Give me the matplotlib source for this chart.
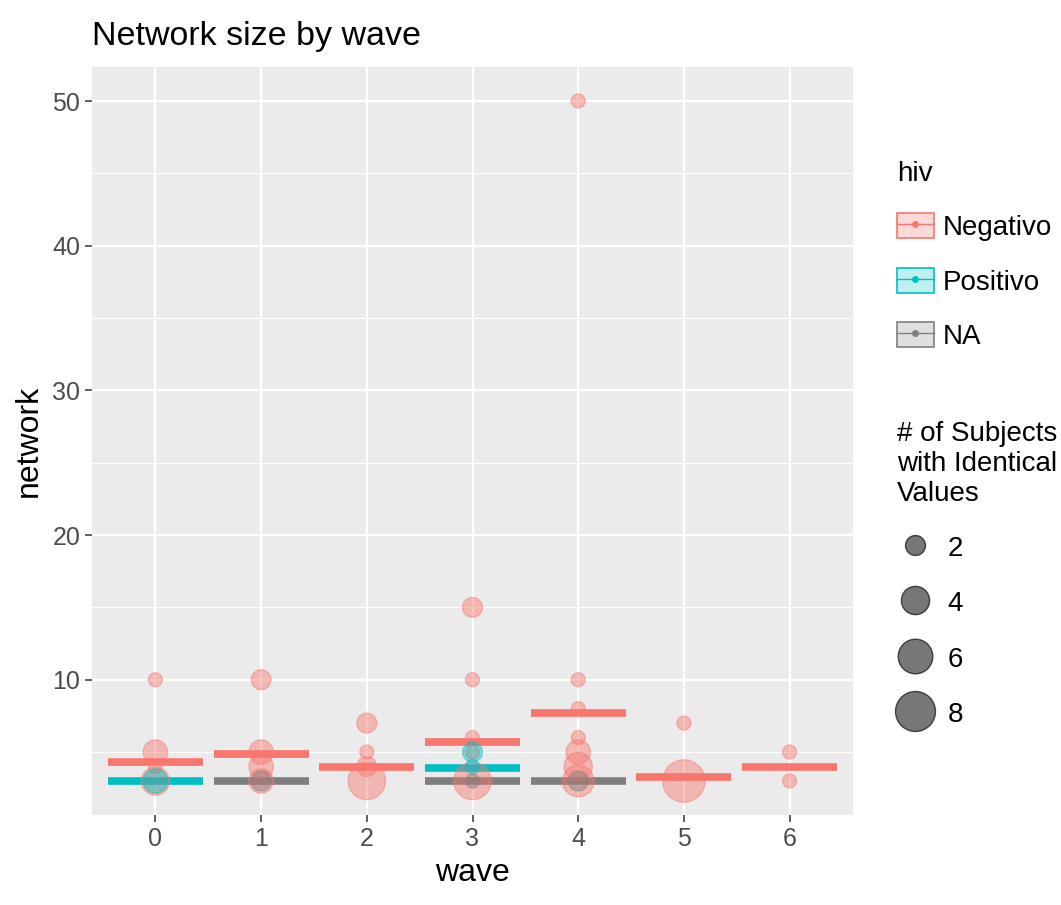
import numpy as np
import matplotlib.pyplot as plt
from matplotlib.lines import Line2D
from matplotlib.patches import Rectangle
from matplotlib.legend_handler import HandlerTuple

plt.rcParams['font.family'] = ['Liberation Sans', 'DejaVu Sans']

# points: wave, network value, number of subjects with identical values
neg_wave = [0, 0, 0, 0, 1, 1, 1, 1, 2, 2, 2, 2, 3, 3, 3, 3, 3, 4, 4, 4, 4, 4, 4, 4, 5, 5, 6, 6]
neg_value = [10, 5, 4, 3, 10, 5, 4, 3, 7, 5, 4, 3, 15, 10, 6, 5, 3, 50, 10, 8, 6, 5, 4, 3, 7, 3, 5, 3]
neg_count = [1, 3, 1, 4, 2, 3, 3, 3, 2, 1, 2, 7, 2, 1, 1, 1, 7, 1, 1, 1, 1, 3, 4, 5, 1, 9, 1, 1]

pos_wave = [0, 3, 3]
pos_value = [3, 5, 4]
pos_count = [3, 2, 1]

na_wave = [1, 3, 4]
na_value = [3, 3, 3]
na_count = [2, 1, 2]

# group means (horizontal bars)
neg_mean_wave = [0, 1, 2, 3, 4, 5, 6]
neg_mean = [4.3, 4.9, 4.0, 5.7, 7.7, 3.3, 4.0]
pos_mean_wave = [0, 3]
pos_mean = [3.0, 3.9]
na_mean_wave = [1, 3, 4]
na_mean = [3.0, 3.0, 3.0]

size_breaks = [2, 4, 6, 8]
hiv_labels = ['Negativo', 'Positivo', 'NA']
colors = ['#F8766D', '#00BFC4', '#7F7F7F']


def diam(n):
    # diameter in points
    return 0.72 * np.sqrt(14 ** 2 + (np.asarray(n) - 1) * 200)


fig = plt.figure(figsize=(10.61, 9.05), dpi=100)
ax = fig.add_axes([92 / 1061, 1 - 815 / 905, 761 / 1061, 748 / 905])
ax.set_facecolor('#EBEBEB')

groups = [
    (neg_wave, neg_value, neg_count, neg_mean_wave, neg_mean, colors[0]),
    (pos_wave, pos_value, pos_count, pos_mean_wave, pos_mean, colors[1]),
    (na_wave, na_value, na_count, na_mean_wave, na_mean, colors[2]),
]
for w, v, c, mw, m, col in groups:
    mw = np.asarray(mw)
    ax.hlines(m, mw - 0.45, mw + 0.45, color=col, linewidth=5.5, zorder=2)
for w, v, c, mw, m, col in groups:
    ax.scatter(w, v, s=diam(c) ** 2, color=col, alpha=0.45,
               edgecolors=col, linewidths=1.0, zorder=3)

ax.set_xlim(-0.6, 6.6)
ax.set_ylim(0.65, 52.35)
ax.set_xticks(range(7))
ax.set_yticks([10, 20, 30, 40, 50])
ax.set_yticks([5, 15, 25, 35, 45], minor=True)
ax.set_xticks([], minor=True)
ax.grid(True, which='major', color='white', linewidth=1.6)
ax.grid(True, which='minor', axis='y', color='white', linewidth=0.8)
ax.set_axisbelow(True)
for s in ax.spines.values():
    s.set_visible(False)
ax.tick_params(which='major', colors='#333333', labelcolor='#4D4D4D',
               labelsize=18, length=5, width=1.1)
ax.tick_params(which='minor', length=0)

ax.set_xlabel('wave', fontsize=23, labelpad=5)
ax.set_ylabel('network', fontsize=23, labelpad=6)
ax.set_title('Network size by wave', fontsize=24.5, loc='left', pad=16)

# hiv legend
light = ['#FBD9D6', '#BFEFF0', '#DFDFDF']
hiv_handles = []
for col, lc in zip(colors, light):
    hiv_handles.append((Rectangle((0, 0), 1, 1, facecolor=lc, edgecolor=col, linewidth=1.2),
                        Line2D([], [], color=col, marker='o', markersize=4, linewidth=1.0)))
leg1 = fig.legend(hiv_handles, hiv_labels, title='hiv', loc='upper left',
                  bbox_to_anchor=(872 / 1061, 1 - 136 / 905), frameon=False,
                  fontsize=20, title_fontsize=20, handlelength=1.33, handleheight=1.0,
                  labelspacing=0.95, handletextpad=0.3,
                  handler_map={tuple: HandlerTuple(ndivide=1, pad=0)})
leg1._legend_box.align = 'left'

size_handles = [Line2D([], [], linestyle='none', marker='o', markersize=diam(n),
                       markerfacecolor='#555555', markeredgecolor='#222222',
                       alpha=0.8) for n in size_breaks]
leg2 = fig.legend(size_handles, [str(n) for n in size_breaks],
                  title='# of Subjects\nwith Identical\nValues', loc='upper left',
                  bbox_to_anchor=(872 / 1061, 1 - 396 / 905), frameon=False,
                  fontsize=20, title_fontsize=20, handlelength=1.33, handleheight=1.0,
                  labelspacing=0.98, handletextpad=0.5)
leg2.get_title().set_linespacing(1.2)
leg2._legend_box.align = 'left'

fig.savefig('out.png', dpi=100)
